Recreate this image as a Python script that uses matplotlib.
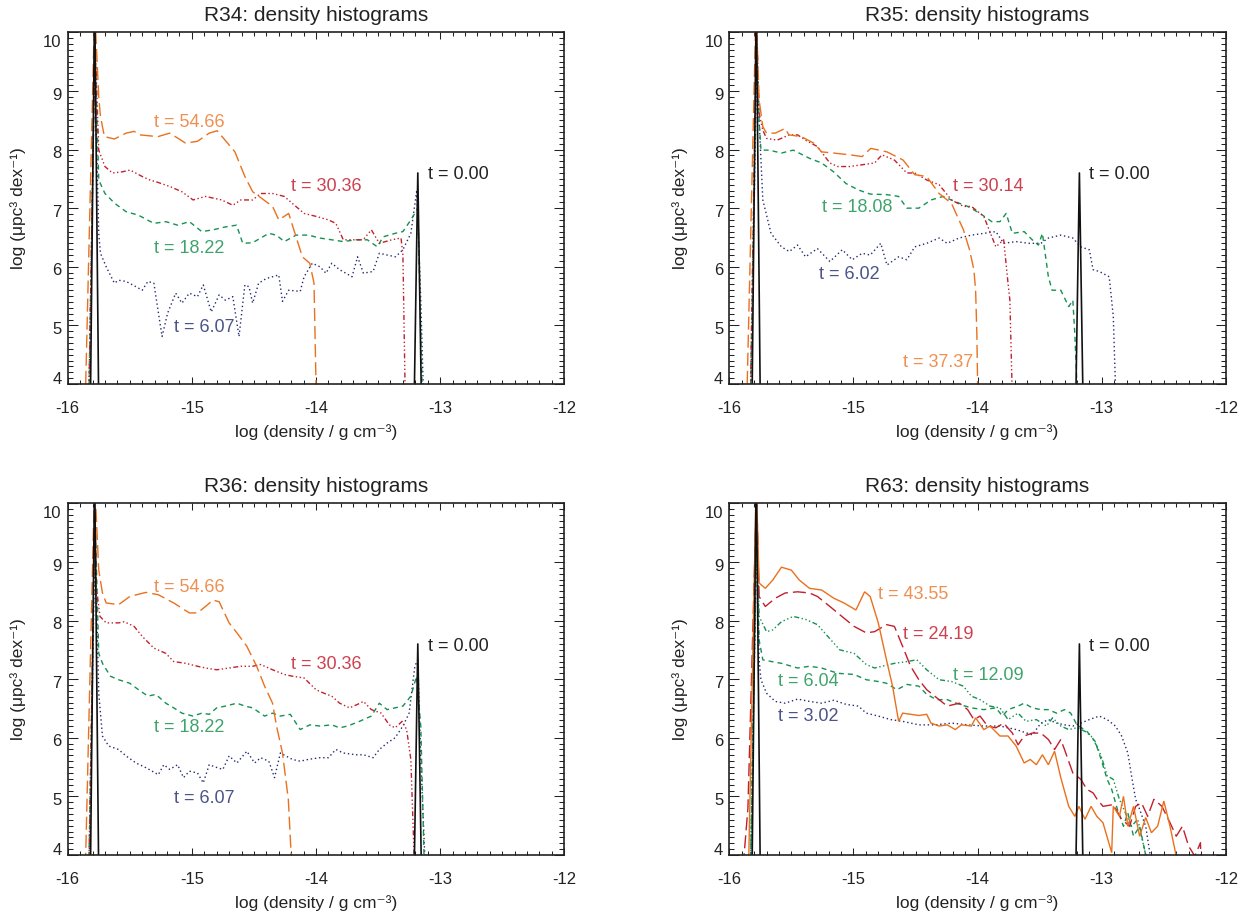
import matplotlib
matplotlib.use("Agg")
import matplotlib.pyplot as plt
from matplotlib.ticker import FixedLocator, MultipleLocator

plt.rcParams['font.family'] = ['Liberation Sans', 'DejaVu Sans']

# ---------------------------------------------------------------- data
X_TICKS = [-16, -15, -14, -13, -12]
Y_TICKS = [4, 5, 6, 7, 8, 9, 10]

# initial condition (same in all runs)
t000 = [(-15.835, 0.0), (-15.783, 10.6), (-15.733, 0.0), (-13.237, 0.0),
        (-13.18, 7.6), (-13.123, 0.0)]

# ---- R34
r34_t0607 = [(-15.86, 0.0), (-15.783, 9.5), (-15.75, 6.57), (-15.736, 6.23), (-15.69, 6.0),
             (-15.624, 5.72), (-15.59, 5.77), (-15.53, 5.75), (-15.45, 5.66), (-15.40, 5.60),
             (-15.354, 5.75), (-15.306, 5.72), (-15.24, 4.81), (-15.195, 5.21), (-15.13, 5.55),
             (-15.08, 5.38), (-15.02, 5.55), (-14.955, 5.49), (-14.908, 5.69), (-14.844, 5.23),
             (-14.78, 5.52), (-14.73, 5.43), (-14.67, 5.49), (-14.62, 4.81), (-14.573, 5.69),
             (-14.54, 5.66), (-14.51, 5.38), (-14.462, 5.72), (-14.40, 5.80), (-14.35, 5.83),
             (-14.30, 5.86), (-14.27, 5.41), (-14.22, 5.60), (-14.127, 5.58), (-14.096, 5.83),
             (-14.03, 6.06), (-13.968, 6.0), (-13.92, 5.89), (-13.873, 6.06), (-13.81, 5.95),
             (-13.71, 5.83), (-13.665, 6.17), (-13.618, 5.89), (-13.54, 5.92), (-13.49, 6.23),
             (-13.427, 6.20), (-13.36, 6.17), (-13.30, 6.29), (-13.236, 6.57), (-13.188, 7.31),
             (-13.156, 5.43), (-13.11, 2.0)]
r34_t1822 = [(-15.86, 0.0), (-15.78, 9.8), (-15.75, 7.48), (-15.70, 7.25), (-15.62, 7.08),
             (-15.53, 6.94), (-15.43, 6.88), (-15.306, 6.74), (-15.21, 6.77), (-15.115, 6.71),
             (-15.02, 6.77), (-14.92, 6.60), (-14.83, 6.63), (-14.73, 6.68), (-14.64, 6.71),
             (-14.59, 6.40), (-14.51, 6.41), (-14.446, 6.49), (-14.38, 6.57), (-14.32, 6.54),
             (-14.255, 6.43), (-14.16, 6.54), (-14.06, 6.54), (-13.97, 6.49), (-13.873, 6.46),
             (-13.78, 6.43), (-13.68, 6.46), (-13.586, 6.46), (-13.506, 6.34), (-13.46, 6.51),
             (-13.363, 6.57), (-13.30, 6.60), (-13.236, 6.80), (-13.204, 6.91), (-13.18, 7.0),
             (-13.146, 4.0), (-13.13, 2.0)]
r34_t3036 = [(-15.86, 0.0), (-15.78, 9.9), (-15.75, 7.99), (-15.70, 7.71), (-15.64, 7.60),
             (-15.56, 7.62), (-15.497, 7.65), (-15.40, 7.54), (-15.338, 7.48), (-15.274, 7.44),
             (-15.178, 7.37), (-15.08, 7.28), (-14.99, 7.14), (-14.89, 7.20), (-14.76, 7.14),
             (-14.67, 7.05), (-14.605, 7.14), (-14.51, 7.14), (-14.446, 7.25), (-14.35, 7.25),
             (-14.255, 7.20), (-14.19, 7.08), (-14.096, 6.91), (-14.0, 6.86), (-13.9, 6.80),
             (-13.84, 6.74), (-13.78, 6.46), (-13.68, 6.46), (-13.62, 6.46), (-13.554, 6.63),
             (-13.49, 6.40), (-13.39, 6.46), (-13.315, 6.49), (-13.30, 6.2), (-13.283, 4.0),
             (-13.275, 2.0)]
r34_t5466 = [(-15.90, 0.0), (-15.783, 10.4), (-15.75, 8.90), (-15.736, 8.56), (-15.704, 8.22),
             (-15.624, 8.18), (-15.529, 8.28), (-15.465, 8.31), (-15.417, 8.25), (-15.274, 8.22),
             (-15.178, 8.28), (-15.051, 8.11), (-14.955, 8.14), (-14.86, 8.28), (-14.796, 8.32),
             (-14.653, 7.96), (-14.573, 7.54), (-14.51, 7.28), (-14.35, 7.03), (-14.30, 6.80),
             (-14.22, 6.91), (-14.11, 6.17), (-14.05, 6.06), (-14.016, 5.72), (-14.0, 4.0),
             (-13.995, 2.0)]

# ---- R35
r35_t0602 = [(-15.86, 0.0), (-15.78, 9.4), (-15.76, 8.5), (-15.73, 7.14), (-15.664, 6.57),
             (-15.58, 6.34), (-15.517, 6.26), (-15.45, 6.37), (-15.386, 6.17), (-15.29, 6.31),
             (-15.19, 6.09), (-15.09, 6.29), (-15.01, 6.12), (-14.93, 6.23), (-14.865, 6.20),
             (-14.78, 6.40), (-14.73, 6.03), (-14.636, 6.17), (-14.57, 6.12), (-14.506, 6.34),
             (-14.41, 6.40), (-14.31, 6.49), (-14.245, 6.40), (-14.15, 6.49), (-14.05, 6.54),
             (-13.95, 6.57), (-13.853, 6.60), (-13.79, 6.40), (-13.69, 6.43), (-13.59, 6.40),
             (-13.49, 6.40), (-13.43, 6.49), (-13.33, 6.54), (-13.233, 6.49), (-13.17, 6.34),
             (-13.10, 6.29), (-13.07, 5.95), (-13.02, 5.92), (-12.94, 5.83), (-12.907, 5.15),
             (-12.89, 4.0), (-12.885, 2.0)]
r35_t1808 = [(-15.86, 0.0), (-15.78, 9.9), (-15.76, 8.50), (-15.745, 7.99), (-15.68, 7.99),
             (-15.58, 7.94), (-15.485, 7.99), (-15.354, 7.85), (-15.256, 7.77), (-15.16, 7.62),
             (-15.06, 7.42), (-14.96, 7.31), (-14.865, 7.24), (-14.73, 7.23), (-14.636, 7.20),
             (-14.57, 7.0), (-14.473, 7.0), (-14.375, 7.14), (-14.277, 7.20), (-14.18, 7.11),
             (-14.08, 7.03), (-13.98, 6.91), (-13.886, 6.77), (-13.82, 6.77), (-13.77, 6.91),
             (-13.72, 6.57), (-13.625, 6.60), (-13.56, 6.46), (-13.51, 6.37), (-13.478, 6.57),
             (-13.43, 5.83), (-13.40, 5.60), (-13.33, 5.60), (-13.266, 5.32), (-13.233, 5.43),
             (-13.217, 4.86), (-13.2, 4.0), (-13.195, 2.0)]
r35_t3014 = [(-15.86, 0.0), (-15.78, 10.2), (-15.76, 8.62), (-15.73, 8.33), (-15.70, 8.19),
             (-15.615, 8.16), (-15.517, 8.25), (-15.45, 8.25), (-15.386, 8.16), (-15.29, 8.05),
             (-15.19, 7.77), (-15.126, 7.71), (-15.03, 7.71), (-14.93, 7.74), (-14.83, 7.77),
             (-14.77, 7.91), (-14.67, 7.82), (-14.57, 7.60), (-14.506, 7.60), (-14.41, 7.48),
             (-14.31, 7.40), (-14.21, 7.14), (-14.114, 7.03), (-14.05, 7.03), (-13.95, 6.86),
             (-13.853, 6.34), (-13.79, 6.46), (-13.755, 5.72), (-13.74, 5.43), (-13.723, 4.0),
             (-13.72, 2.0)]
r35_t3737 = [(-15.90, 0.0), (-15.785, 10.4), (-15.76, 8.85), (-15.73, 8.39), (-15.70, 8.28),
             (-15.63, 8.28), (-15.55, 8.36), (-15.52, 8.25), (-15.42, 8.22), (-15.32, 8.11),
             (-15.256, 7.96), (-15.16, 7.94), (-15.03, 7.91), (-14.93, 7.88), (-14.86, 8.02),
             (-14.73, 7.96), (-14.60, 7.82), (-14.506, 7.57), (-14.41, 7.54), (-14.31, 7.25),
             (-14.21, 7.08), (-14.114, 6.63), (-14.065, 6.29), (-14.03, 5.95), (-14.016, 5.60),
             (-14.006, 4.86), (-14.0, 4.0), (-13.998, 2.0)]

# ---- R36
r36_t0607 = [(-15.86, 0.0), (-15.78, 9.4), (-15.75, 6.76), (-15.72, 6.03), (-15.67, 5.86),
             (-15.59, 5.80), (-15.53, 5.69), (-15.45, 5.57), (-15.37, 5.49), (-15.27, 5.37),
             (-15.226, 5.54), (-15.178, 5.46), (-15.115, 5.54), (-15.067, 5.32), (-15.02, 5.43),
             (-14.955, 5.40), (-14.908, 5.23), (-14.86, 5.54), (-14.796, 5.49), (-14.75, 5.46),
             (-14.70, 5.69), (-14.637, 5.57), (-14.557, 5.77), (-14.494, 5.57), (-14.446, 5.66),
             (-14.38, 5.60), (-14.334, 5.32), (-14.287, 5.74), (-14.19, 5.63), (-14.127, 5.60),
             (-14.064, 5.63), (-13.968, 5.66), (-13.90, 5.66), (-13.84, 5.80), (-13.78, 5.74),
             (-13.68, 5.71), (-13.618, 5.71), (-13.54, 5.66), (-13.49, 5.80), (-13.427, 5.91),
             (-13.363, 6.0), (-13.30, 6.20), (-13.25, 6.42), (-13.204, 7.22), (-13.18, 7.33),
             (-13.156, 5.63), (-13.124, 4.0), (-13.11, 2.0)]
r36_t1822 = [(-15.86, 0.0), (-15.78, 9.8), (-15.75, 7.44), (-15.72, 7.27), (-15.656, 7.05),
             (-15.59, 6.99), (-15.50, 6.93), (-15.43, 6.82), (-15.354, 6.71), (-15.29, 6.74),
             (-15.21, 6.59), (-15.146, 6.51), (-15.08, 6.42), (-14.99, 6.37), (-14.92, 6.42),
             (-14.86, 6.40), (-14.80, 6.51), (-14.73, 6.54), (-14.637, 6.59), (-14.573, 6.54),
             (-14.51, 6.51), (-14.414, 6.37), (-14.35, 6.42), (-14.287, 6.37), (-14.207, 6.40),
             (-14.127, 6.14), (-14.05, 6.22), (-13.968, 6.20), (-13.873, 6.22), (-13.81, 6.17),
             (-13.745, 6.20), (-13.65, 6.28), (-13.554, 6.37), (-13.49, 6.59), (-13.427, 6.48),
             (-13.363, 6.51), (-13.30, 6.54), (-13.236, 6.71), (-13.19, 7.05), (-13.156, 6.20),
             (-13.13, 4.0), (-13.12, 2.0)]
r36_t3036 = [(-15.86, 0.0), (-15.78, 9.9), (-15.77, 8.58), (-15.74, 8.07), (-15.69, 7.96),
             (-15.59, 7.96), (-15.545, 7.98), (-15.465, 7.90), (-15.40, 7.73), (-15.306, 7.53),
             (-15.21, 7.44), (-15.146, 7.30), (-15.05, 7.27), (-14.955, 7.22), (-14.89, 7.19),
             (-14.80, 7.16), (-14.70, 7.19), (-14.605, 7.22), (-14.51, 7.22), (-14.446, 7.25),
             (-14.35, 7.16), (-14.255, 7.08), (-14.19, 7.05), (-14.096, 7.02), (-14.0, 6.82),
             (-13.936, 6.76), (-13.873, 6.71), (-13.81, 6.59), (-13.73, 6.51), (-13.665, 6.57),
             (-13.618, 6.62), (-13.554, 6.48), (-13.475, 6.42), (-13.41, 6.22), (-13.363, 6.17),
             (-13.306, 6.28), (-13.27, 6.14), (-13.236, 5.63), (-13.21, 4.0), (-13.2, 2.0)]
r36_t5466 = [(-15.90, 0.0), (-15.783, 10.4), (-15.75, 8.86), (-15.72, 8.47), (-15.69, 8.30),
             (-15.59, 8.27), (-15.50, 8.41), (-15.37, 8.48), (-15.27, 8.44), (-15.146, 8.30),
             (-15.02, 8.13), (-14.955, 8.13), (-14.89, 8.24), (-14.83, 8.35), (-14.78, 8.32),
             (-14.70, 7.96), (-14.637, 7.79), (-14.557, 7.56), (-14.478, 7.22), (-14.414, 6.88),
             (-14.35, 6.59), (-14.318, 6.20), (-14.27, 5.74), (-14.223, 4.95), (-14.20, 4.0),
             (-14.19, 2.0)]

# ---- R63
r63_t0302 = [(-15.86, 0.0), (-15.78, 9.4), (-15.76, 7.33), (-15.745, 6.99), (-15.70, 6.76),
             (-15.63, 6.62), (-15.55, 6.59), (-15.45, 6.66), (-15.354, 6.62), (-15.256, 6.59),
             (-15.158, 6.64), (-15.06, 6.57), (-14.96, 6.54), (-14.897, 6.42), (-14.80, 6.37),
             (-14.70, 6.31), (-14.604, 6.28), (-14.473, 6.22), (-14.343, 6.22), (-14.21, 6.25),
             (-14.08, 6.22), (-13.95, 6.20), (-13.82, 6.20), (-13.69, 6.14), (-13.56, 6.05),
             (-13.49, 6.25), (-13.43, 6.31), (-13.364, 6.25), (-13.30, 6.22), (-13.233, 6.20),
             (-13.168, 6.25), (-13.10, 6.31), (-13.02, 6.37), (-12.956, 6.31), (-12.89, 6.20),
             (-12.84, 6.03), (-12.79, 5.74), (-12.76, 5.35), (-12.727, 4.95), (-12.695, 4.78),
             (-12.646, 4.49), (-12.61, 4.0), (-12.60, 2.0)]
r63_t0604 = [(-15.86, 0.0), (-15.78, 9.6), (-15.76, 7.67), (-15.73, 7.33), (-15.66, 7.30),
             (-15.58, 7.27), (-15.45, 7.19), (-15.354, 7.22), (-15.256, 7.19), (-15.126, 7.10),
             (-14.995, 7.08), (-14.897, 6.99), (-14.80, 6.96), (-14.734, 6.93), (-14.65, 6.82),
             (-14.57, 6.91), (-14.473, 6.88), (-14.41, 6.74), (-14.33, 6.65), (-14.245, 6.65),
             (-14.147, 6.57), (-14.05, 6.51), (-13.95, 6.48), (-13.853, 6.51), (-13.80, 6.37),
             (-13.755, 6.48), (-13.674, 6.54), (-13.625, 6.59), (-13.56, 6.51), (-13.49, 6.48),
             (-13.43, 6.48), (-13.364, 6.42), (-13.30, 6.48), (-13.25, 6.42), (-13.2, 6.22),
             (-13.12, 6.11), (-13.054, 5.94), (-13.005, 5.63), (-12.956, 5.29), (-12.92, 5.12),
             (-12.874, 4.78), (-12.825, 4.49), (-12.79, 4.72), (-12.744, 4.32), (-12.695, 4.49),
             (-12.646, 4.0), (-12.63, 2.0)]
r63_t1209 = [(-15.86, 0.0), (-15.78, 9.8), (-15.76, 8.07), (-15.70, 7.81), (-15.65, 7.84),
             (-15.58, 7.98), (-15.485, 8.07), (-15.386, 8.02), (-15.29, 7.93), (-15.207, 7.73),
             (-15.11, 7.50), (-14.995, 7.44), (-14.897, 7.25), (-14.83, 7.19), (-14.77, 7.22),
             (-14.67, 7.27), (-14.57, 7.30), (-14.49, 7.33), (-14.41, 7.16), (-14.31, 6.99),
             (-14.21, 6.96), (-14.114, 6.88), (-14.05, 6.71), (-13.98, 6.65), (-13.90, 6.54),
             (-13.82, 6.51), (-13.755, 6.31), (-13.674, 6.42), (-13.61, 6.28), (-13.527, 6.31),
             (-13.445, 6.20), (-13.396, 6.34), (-13.33, 6.20), (-13.266, 6.14), (-13.2, 6.17),
             (-13.135, 6.11), (-13.086, 6.03), (-13.04, 5.86), (-13.005, 5.69), (-12.956, 5.35),
             (-12.907, 5.29), (-12.858, 4.95), (-12.81, 4.72), (-12.76, 4.49), (-12.71, 4.61),
             (-12.68, 4.32), (-12.646, 4.0), (-12.63, 2.0)]
r63_t2419 = [(-15.90, 3.5), (-15.85, 4.8), (-15.78, 10.2), (-15.76, 8.41), (-15.71, 8.24),
             (-15.63, 8.38), (-15.55, 8.47), (-15.45, 8.49), (-15.354, 8.47), (-15.29, 8.41),
             (-15.19, 8.24), (-15.093, 8.07), (-14.995, 7.90), (-14.897, 7.79), (-14.83, 7.81),
             (-14.734, 7.93), (-14.67, 7.90), (-14.604, 7.56), (-14.54, 7.22), (-14.473, 6.99),
             (-14.41, 6.82), (-14.31, 6.65), (-14.245, 6.54), (-14.147, 6.59), (-14.08, 6.48),
             (-14.03, 6.31), (-13.98, 6.37), (-13.92, 6.20), (-13.853, 6.17), (-13.79, 6.25),
             (-13.72, 6.08), (-13.674, 5.88), (-13.625, 6.03), (-13.56, 6.08), (-13.49, 6.08),
             (-13.43, 5.97), (-13.38, 5.80), (-13.33, 5.97), (-13.30, 5.80), (-13.233, 5.40),
             (-13.168, 5.29), (-13.12, 5.12), (-13.07, 5.06), (-13.037, 4.95), (-12.99, 4.83),
             (-12.907, 4.86), (-12.84, 4.61), (-12.776, 4.49), (-12.727, 4.83), (-12.68, 4.89),
             (-12.63, 4.66), (-12.58, 4.95), (-12.515, 4.83), (-12.45, 4.55), (-12.40, 4.32),
             (-12.35, 4.49), (-12.30, 4.15), (-12.25, 3.98), (-12.205, 4.21), (-12.19, 3.0)]
r63_t4355 = [(-15.88, 0.0), (-15.783, 10.4), (-15.76, 8.64), (-15.71, 8.55), (-15.65, 8.69),
             (-15.58, 8.91), (-15.50, 8.86), (-15.436, 8.69), (-15.354, 8.55), (-15.256, 8.52),
             (-15.158, 8.38), (-15.077, 8.30), (-14.98, 8.18), (-14.91, 8.49), (-14.865, 8.41),
             (-14.80, 7.96), (-14.734, 7.33), (-14.685, 6.88), (-14.636, 6.28), (-14.604, 6.42),
             (-14.538, 6.40), (-14.473, 6.38), (-14.41, 6.40), (-14.375, 6.25), (-14.31, 6.20),
             (-14.245, 6.22), (-14.18, 6.14), (-14.13, 6.22), (-14.05, 6.20), (-14.016, 6.34),
             (-13.95, 6.14), (-13.90, 6.20), (-13.82, 6.03), (-13.755, 6.03), (-13.69, 5.86),
             (-13.625, 5.57), (-13.576, 5.63), (-13.527, 5.54), (-13.478, 5.71), (-13.43, 5.54),
             (-13.38, 5.77), (-13.33, 5.32), (-13.266, 4.83), (-13.217, 4.66), (-13.184, 4.83),
             (-13.135, 4.61), (-13.086, 4.83), (-13.04, 4.66), (-12.99, 4.55), (-12.92, 4.04),
             (-12.907, 4.83), (-12.858, 4.66), (-12.825, 5.0), (-12.79, 4.49), (-12.744, 4.83),
             (-12.695, 4.32), (-12.646, 4.64), (-12.60, 4.38), (-12.55, 4.49), (-12.50, 4.92),
             (-12.45, 4.49), (-12.40, 3.98), (-12.39, 3.0)]

# labels: (text, x, baseline y)
r34_labels = [("t = 54.66", -15.306, 8.39), ("t = 30.36", -14.20, 7.29),
              ("t = 18.22", -15.306, 6.23), ("t = 6.07", -15.146, 4.89),
              ("t = 0.00", -13.10, 7.49)]
r35_labels = [("t = 30.14", -14.196, 7.29), ("t = 18.08", -15.256, 6.94),
              ("t = 6.02", -15.28, 5.79), ("t = 37.37", -14.604, 4.29),
              ("t = 0.00", -13.103, 7.49)]
r36_labels = [("t = 54.66", -15.306, 8.48), ("t = 30.36", -14.20, 7.18),
              ("t = 18.22", -15.306, 6.09), ("t = 6.07", -15.146, 4.88),
              ("t = 0.00", -13.10, 7.48)]
r63_labels = [("t = 43.55", -14.80, 8.37), ("t = 24.19", -14.604, 7.68),
              ("t = 12.09", -14.196, 6.98), ("t = 6.04", -15.605, 6.88),
              ("t = 3.02", -15.605, 6.29), ("t = 0.00", -13.103, 7.48)]

# ---------------------------------------------------------------- styles
COL = {'k': '#111111', 'b': '#232a70', 'g': '#169152', 'r': '#c2202c', 'o': '#e9711d'}
TCOL = {'k': '#222222', 'b': '#4b5489', 'g': '#3fa46c', 'r': '#cd4150', 'o': '#ef9052'}
LS = {
    'solid': '-',
    'dot': (0, (1.0, 2.0)),
    'dash': (0, (3.6, 2.9)),
    'long': (0, (9.4, 3.6)),
    'd3d': (0, (3.6, 1.8, 1.0, 1.8, 1.0, 1.8, 1.0, 1.8)),
}
LW = 1.0

W, H = 1254, 919
fig = plt.figure(figsize=(W / 100, H / 100), dpi=100)

panel_w = 496.6 / W
panel_h = 351.7 / H
lefts = [67.7 / W, 729.3 / W]
bottoms = [(H - 384.0) / H, (H - 855.0) / H]

panels = [
    ("R34: density histograms", lefts[0], bottoms[0],
     [(r34_t0607, 'b', 'dot'), (r34_t1822, 'g', 'dash'), (r34_t3036, 'r', 'd3d'),
      (r34_t5466, 'o', 'long')], r34_labels, ['o', 'r', 'g', 'b', 'k']),
    ("R35: density histograms", lefts[1], bottoms[0],
     [(r35_t0602, 'b', 'dot'), (r35_t1808, 'g', 'dash'), (r35_t3014, 'r', 'd3d'),
      (r35_t3737, 'o', 'long')], r35_labels, ['r', 'g', 'b', 'o', 'k']),
    ("R36: density histograms", lefts[0], bottoms[1],
     [(r36_t0607, 'b', 'dot'), (r36_t1822, 'g', 'dash'), (r36_t3036, 'r', 'd3d'),
      (r36_t5466, 'o', 'long')], r36_labels, ['o', 'r', 'g', 'b', 'k']),
    ("R63: density histograms", lefts[1], bottoms[1],
     [(r63_t0302, 'b', 'dot'), (r63_t0604, 'g', 'dash'), (r63_t1209, 'g', 'd3d'),
      (r63_t2419, 'r', 'long'), (r63_t4355, 'o', 'solid')], r63_labels,
     ['o', 'r', 'g', 'g', 'b', 'k']),
]

for title, left, bottom, curves, labels, lcols in panels:
    ax = fig.add_axes([left, bottom, panel_w, panel_h])
    for pts, c, ls in curves:
        xs = [p[0] for p in pts]
        ys = [p[1] for p in pts]
        ax.plot(xs, ys, color=COL[c], lw=LW, linestyle=LS[ls], solid_joinstyle='miter')
    ax.plot([p[0] for p in t000], [p[1] for p in t000], color=COL['k'], lw=1.2,
            linestyle='-')
    for (txt, x, y), c in zip(labels, lcols):
        ax.text(x, y, txt, color=TCOL[c], fontsize=13, ha='left', va='baseline')

    ax.set_xlim(-16, -12)
    ax.set_ylim(4, 10)
    ax.xaxis.set_major_locator(FixedLocator(X_TICKS))
    ax.yaxis.set_major_locator(FixedLocator(Y_TICKS))
    ax.xaxis.set_minor_locator(MultipleLocator(0.1))
    ax.yaxis.set_minor_locator(MultipleLocator(0.1))
    ax.tick_params(which='both', direction='in', top=True, right=True,
                   labelbottom=False, labelleft=False, color='#222222', width=0.75)
    ax.tick_params(axis='x', which='major', length=4.8)
    ax.tick_params(axis='x', which='minor', length=2.7)
    ax.tick_params(axis='y', which='major', length=7.2)
    ax.tick_params(axis='y', which='minor', length=3.6)
    for s in ax.spines.values():
        s.set_linewidth(1.2)
        s.set_color('#222222')

    for v in X_TICKS:
        ax.annotate(f"{v}", xy=(v, 0), xycoords=('data', 'axes fraction'),
                    xytext=(0, -20.9), textcoords='offset points',
                    ha='center', va='baseline', fontsize=12, color='#222222')
    for v in Y_TICKS:
        dy = -10.4 if v == 10 else (0.0 if v == 4 else -6.2)
        ax.annotate(f"{v}", xy=(0, v), xycoords=('axes fraction', 'data'),
                    xytext=(-4.3, dy), textcoords='offset points',
                    ha='right', va='baseline', fontsize=12, color='#222222')

    ax.set_title(title, fontsize=15, pad=8.4, color='#222222')
    ax.set_xlabel('log (density / g cm\u207b\u00b3)', fontsize=12.5, color='#222222',
                  va='baseline')
    ax.xaxis.set_label_coords(0.5, -0.1516)
    ax.set_ylabel('log (\u03bcpc\u00b3 dex\u207b\u00b9)', fontsize=12.5, color='#222222',
                  va='baseline', ha='center')
    ax.yaxis.set_label_coords(-0.0894, 0.5)

fig.savefig('out.png', dpi=100)
